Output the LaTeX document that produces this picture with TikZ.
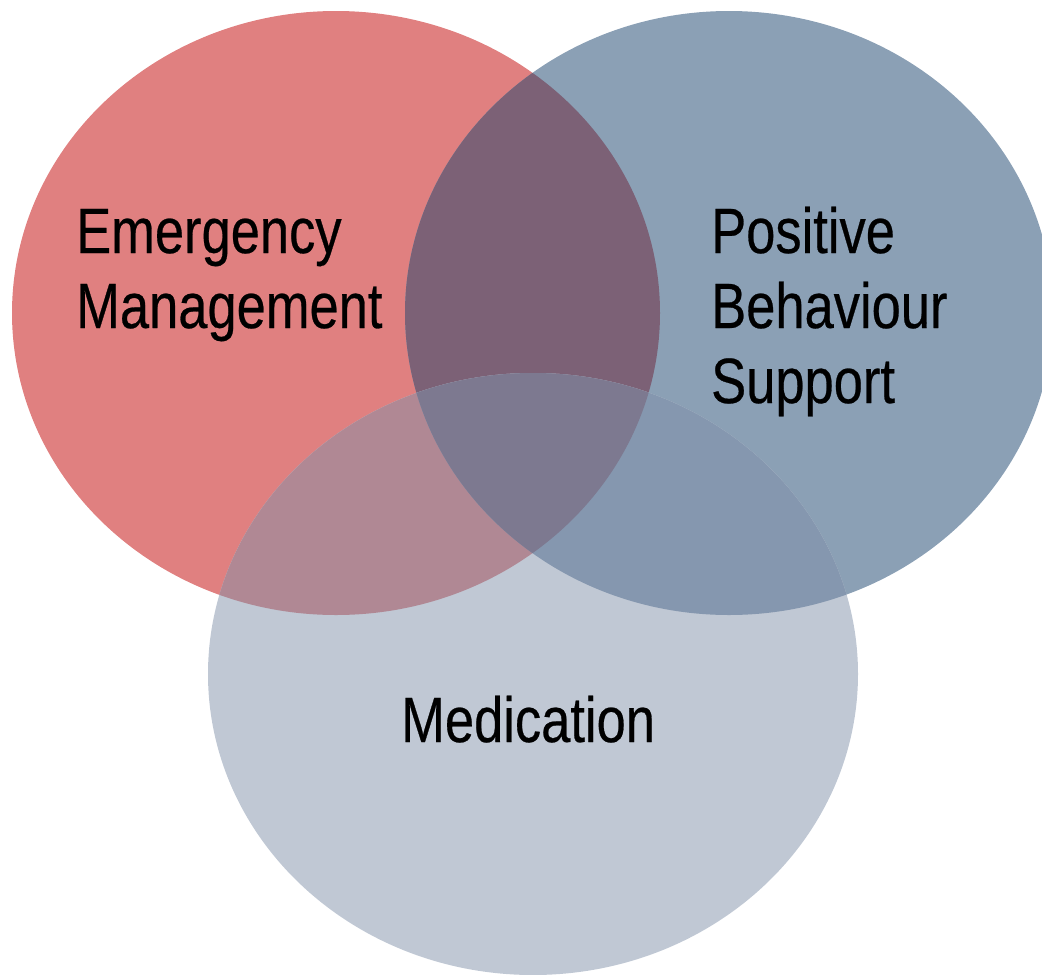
\documentclass[tikz,border=0pt]{standalone}
\usepackage{fontspec}
\newfontfamily\lblfont[FakeStretch=0.82,FakeBold=0.4]{Liberation Sans}
\definecolor{cr}{HTML}{E08080}
\definecolor{cb}{HTML}{8BA0B5}
\definecolor{cl}{HTML}{C0C8D4}
\definecolor{crb}{HTML}{7C6176}
\definecolor{crl}{HTML}{B08894}
\definecolor{cbl}{HTML}{8597AF}
\definecolor{crbl}{HTML}{7D7990}
\begin{document}
\begin{tikzpicture}[x=1pt,y=-1pt,
  lbl/.style={font=\fontsize{64}{75}\selectfont\lblfont, inner sep=0pt, align=left, anchor=base west, text=black}]
\useasboundingbox (0,0) rectangle (1042,975);
\clip (0,0) rectangle (1042,975);
\fill[cr] (336,313) ellipse [x radius=324pt, y radius=302pt];
\fill[cb] (729,313) ellipse [x radius=324pt, y radius=302pt];
\begin{scope}
  \clip (336,313) ellipse [x radius=324pt, y radius=302pt];
  \fill[crb] (729,313) ellipse [x radius=324pt, y radius=302pt];
\end{scope}
\fill[cl] (533,674) ellipse [x radius=325pt, y radius=301pt];
\begin{scope}
  \clip (533,674) ellipse [x radius=325pt, y radius=301pt];
  \fill[crl] (336,313) ellipse [x radius=324pt, y radius=302pt];
  \fill[cbl] (729,313) ellipse [x radius=324pt, y radius=302pt];
  \clip (336,313) ellipse [x radius=324pt, y radius=302pt];
  \fill[crbl] (729,313) ellipse [x radius=324pt, y radius=302pt];
\end{scope}
\node[lbl] (em) at (76,328) {Emergency\\Management};
\node[lbl] (pbs) at (711,403) {Positive\\Behaviour\\Support};
\node[lbl] (med) at (401,742) {Medication};
\end{tikzpicture}
\end{document}
